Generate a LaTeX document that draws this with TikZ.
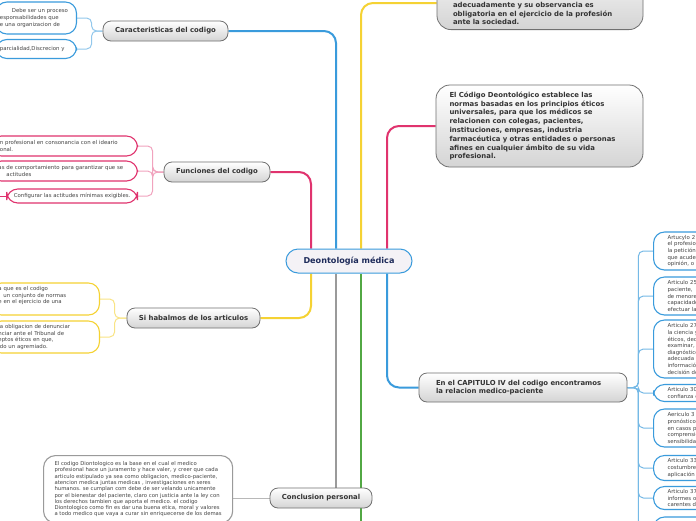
\documentclass[tikz,border=0pt]{standalone}
\usepackage{fontspec}
\setmainfont{DejaVu Sans}
\usetikzlibrary{positioning,backgrounds}

\definecolor{mmblue}{HTML}{3A9BDC}
\definecolor{mmpink}{HTML}{E0336E}
\definecolor{mmyellow}{HTML}{F5D233}
\definecolor{mmgreen}{HTML}{52A844}
\definecolor{mmgray}{HTML}{9A9A9A}
\definecolor{topicline}{HTML}{707070}
\definecolor{topicfill}{HTML}{D4D4D4}
\definecolor{topictext}{HTML}{333333}
\definecolor{leaftext}{HTML}{444444}
\definecolor{centrefill}{HTML}{F4F2F6}
\definecolor{centretext}{HTML}{1E2B5A}

\begin{document}
\begin{tikzpicture}[x=1pt,y=-1pt,
  centre/.style={rectangle,rounded corners=12pt,draw=mmblue,line width=1pt,fill=centrefill,text=centretext,font=\fontsize{8.1}{9}\selectfont\bfseries,minimum width=126pt,minimum height=24pt},
  topic/.style={rectangle,rounded corners=8pt,draw=topicline,line width=0.8pt,top color=white,bottom color=topicfill,text=topictext,font=\fontsize{6.9}{8.5}\selectfont\bfseries,minimum height=20pt},
  leaf/.style={rectangle,rounded corners=11pt,draw=#1,line width=1.1pt,fill=white,text=leaftext,font=\fontsize{5.4}{6.6}\selectfont,align=left,inner xsep=10pt,inner ysep=2.5pt},
  branch/.style={draw=#1,line width=2pt,rounded corners=12pt},
  twig/.style={draw=#1,line width=1pt,rounded corners=5pt}
]
\useasboundingbox (0,0) rectangle (696,520);

% centre and main topics
\node[centre] (deonto) at (349,261) {Deontología médica};
\node[topic,minimum width=125pt] (carac) at (165.5,31) {Caracteristicas del codigo};
\node[topic,minimum width=106pt] (func) at (217,172) {Funciones del codigo};
\node[topic,minimum width=133pt] (artic) at (193.5,318) {Si habalmos de los articulos};
\node[topic,minimum width=102pt] (concl) at (321,498) {Conclusion personal};
\node[topic,align=left,text width=174pt,minimum width=208pt,minimum height=29pt,font=\fontsize{6.9}{8}\selectfont\bfseries] (capit) at (523,387.5)
  {En el CAPITULO IV del codigo encontramos\\la relacion medico-paciente};
\node[topic,anchor=south,rounded corners=14pt,align=left,text width=174pt,minimum width=206pt,text height=50pt,inner ysep=5pt] (topbox) at (540,30)
  {adecuadamente y su observancia es\\obligatoria en el ejercicio de la profesión\\ante la sociedad.};
\node[topic,rounded corners=14pt,align=left,text width=180pt,minimum width=207pt,minimum height=82pt,font=\fontsize{6.9}{8.8}\selectfont\bfseries] (pinkbox) at (539.5,126)
  {El Código Deontológico establece las\\normas basadas en los principios éticos\\universales, para que los médicos se\\relacionen con colegas, pacientes,\\instituciones, empresas, industria\\farmacéutica y otras entidades o personas\\afines en cualquier ámbito de su vida\\profesional.};

% left leaves
\node[leaf=mmblue,anchor=east,text width=72.5pt,inner xsep=4pt,minimum height=32pt] (carac1) at (77,18)
  {\hspace*{12pt}\mbox{Debe ser un proceso}\\esponsabilidades que\\e una organizacion de};
\node[leaf=mmblue,anchor=east,text width=72.5pt,inner xsep=4pt,minimum height=19pt] (carac2) at (77,49) {parcialidad,Discrecion y};
\node[leaf=mmpink,anchor=east,text width=131pt,inner xsep=8pt,minimum height=20pt] (func1) at (138,146)
  {in profesional en consonancia con el ideario\\ional.};
\node[leaf=mmpink,anchor=east,text width=131pt,inner xsep=8pt,minimum height=20pt] (func2) at (138,171)
  {as de comportamiento para garantizar que se\\\hspace*{8pt}actitudes};
\node[leaf=mmpink,anchor=east,inner xsep=7pt,minimum height=14pt] (func3) at (138,196) {Configurar las actitudes mínimas exigibles.};
\coordinate (func3tail) at (-20,196);
\node[leaf=mmyellow,anchor=east,text width=93pt,inner xsep=8pt,minimum height=32pt,text depth=21pt] (artic1) at (100,299)
  {a que es el codigo\\\hspace*{5pt}un conjunto de normas\\e en el ejercicio de una};
\node[leaf=mmyellow,anchor=east,text width=93pt,inner xsep=8pt,minimum height=32pt] (artic2) at (100,337)
  {la obligacion de denunciar\\nciar ante el Tribunal de\\eptos éticos en que,\\ido un agremiado.};
\node[leaf=mmgray,anchor=north west,rounded corners=12pt,inner xsep=11pt,inner ysep=6pt,font=\fontsize{5.3}{6.3}\selectfont] (conbox) at (43,455)
  {El codigo Diontologico es la base en el cual el medico\\profesional hace un juramento y hace valer, y creer que cada\\articulo estipulado ya sea como obligacion, medico-paciente,\\atencion medica juntas medicas , investigaciones en seres\\humanos. se cumplan com debe de ser velando unicamente\\por el bienestar del paciente, claro con justicia ante la ley con\\los derechos tambien que aporta el medico. el codigo\\Diontologico como fin es dar una buena etica, moral y valores\\a todo medico que vaya a curar sin enriquecerse de los demas};

% right leaves
\tikzset{rleaf/.style={leaf=mmblue,anchor=west,text width=100pt,inner xsep=14pt}}
\node[rleaf,minimum height=38pt] (capit1) at (653,251) {Artucylo 2\\el profesio\\la petición\\que acude\\opinión, o};
\node[rleaf,minimum height=38pt] (capit2) at (653,296) {Articulo 25\\paciente,\\de menore\\capacidade\\efectuar la};
\node[rleaf,minimum height=58pt] (capit3) at (653,349) {Articulo 27\\la ciencia y\\éticos, ded\\examinar, i\\diagnóstico\\adecuada y\\informació\\decisión de};
\node[rleaf,minimum height=17pt] (capit4) at (653,393) {Articulo 30-\\confianza en};
\node[rleaf,minimum height=38pt] (capit5) at (653,428) {Aericulo 3\\pronóstico\\en casos p\\comprensió\\sensibilida};
\node[rleaf,minimum height=25pt] (capit6) at (653,468) {Articulo 33\\costumbre\\aplicación};
\node[rleaf,minimum height=23pt] (capit7) at (653,498) {Articulo 37\\informes o\\carentes d};
\node[rleaf,minimum height=36pt] (capit8) at (653,535) {};
\coordinate (greenend) at (361,530);

\begin{scope}[on background layer]
\fill[white] (0,0) rectangle (696,520);
% main branches
\draw[branch=mmblue] ([xshift=-13pt]deonto.north) |- (carac.east);
\draw[branch=mmpink] ([xshift=-38pt]deonto.north) |- (func.east);
\draw[branch=mmyellow] ([xshift=12pt]deonto.north) |- ([yshift=27pt]topbox.south west);
\draw[branch=mmpink] ([xshift=38pt]deonto.north) |- (pinkbox.west);
\draw[branch=mmyellow] ([xshift=-38pt]deonto.south) |- (artic.east);
\draw[branch=mmgray] ([xshift=-13pt]deonto.south) -- ([xshift=-13pt]deonto.south |- concl.north);
\draw[branch=mmgreen] ([xshift=12pt]deonto.south) -- (greenend);
\draw[branch=mmblue] ([xshift=38pt]deonto.south) |- (capit.west);
% twigs
\foreach \leafname in {carac1,carac2}
  \draw[twig=mmblue!55] (carac.west) -- ++(-11,0) |- (\leafname.east);
\foreach \leafname in {func1,func2,func3}
  \draw[twig=mmpink!45] (func.west) -- ++(-11,0) |- (\leafname.east);
\draw[twig=mmpink] (func3.west) -- (func3tail);
\foreach \leafname in {artic1,artic2}
  \draw[twig=mmyellow!60] (artic.west) -- ++(-12,0) |- (\leafname.east);
\foreach \leafname in {capit1,capit2,capit3,capit4,capit5,capit6,capit7,capit8}
  \draw[twig=mmblue!70] (capit.east) -- ++(11,0) |- (\leafname.west);
\draw[twig=mmgray!70] (concl.west) -- (concl.west -| conbox.east);
\end{scope}
\end{tikzpicture}
\end{document}
